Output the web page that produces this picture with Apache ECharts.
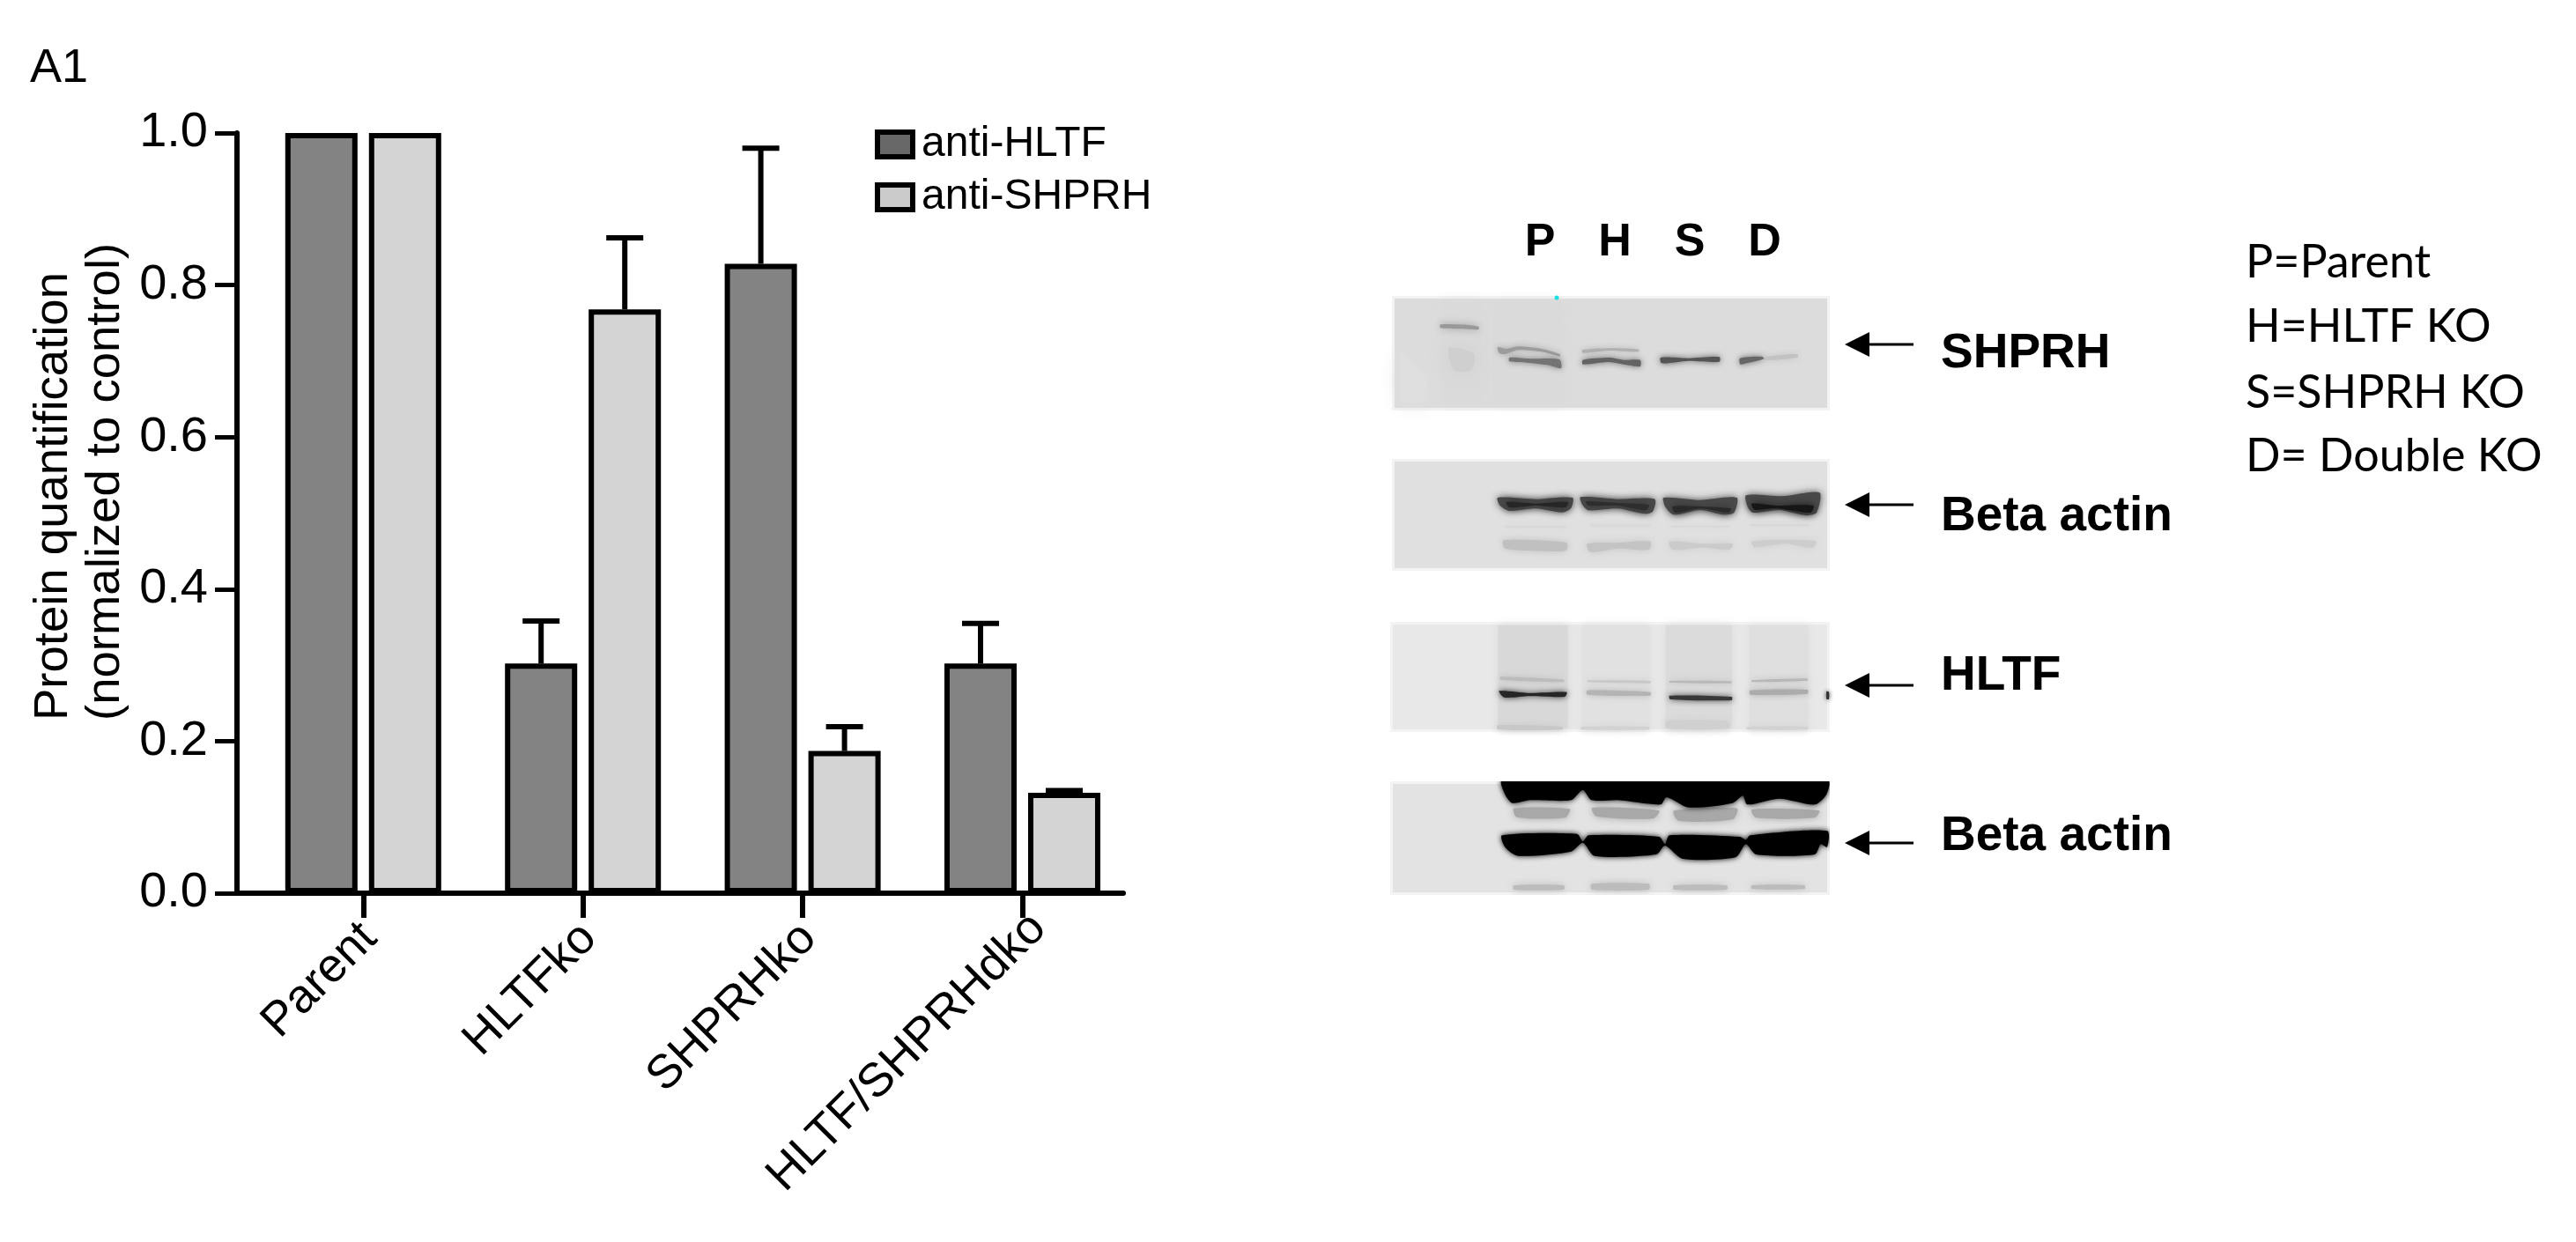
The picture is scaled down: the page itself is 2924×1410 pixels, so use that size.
<!DOCTYPE html>
<html><head><meta charset="utf-8">
<style>html,body{margin:0;padding:0;background:#fff}#c{width:2924px;height:1410px}</style>
<script src="https://cdn.jsdelivr.net/npm/echarts@6/dist/echarts.min.js"></script>
</head><body><div id="c"></div>
<script>
const categories = ['Parent','HLTFko','SHPRHko','HLTF/SHPRHdko'];
const antiHLTF = [1.0,0.302,0.828,0.302];
const antiSHPRH = [1.0,0.768,0.187,0.132];
const antiHLTFUpper = [null,0.358,0.98,0.355];
const antiSHPRHUpper = [null,0.862,0.219,0.135];
const yTicks = ['0.0','0.2','0.4','0.6','0.8','1.0'];
const seriesNames = ['anti-HLTF','anti-SHPRH'];
const yTitle = 'Protein quantification\n(normalized to control)';
const keyLines = ['P=Parent','H=HLTF KO','S=SHPRH KO','D= Double KO'];
const laneLetters = ['P','H','S','D'];
const blotLabels = ['SHPRH','Beta actin','HLTF','Beta actin'];

const F = '"Liberation Sans",Arial,sans-serif';
const G = {top:151,h:863,left:287.6,w:997.6};
const chart = echarts.init(document.getElementById('c'),null,{renderer:'canvas'});

function errSeries(vals,tops,off){
  return {type:'custom',xAxisIndex:0,yAxisIndex:0,z:1,silent:true,
    data:vals.map((v,i)=>[i,v,tops[i]]).filter(d=>d[2]!=null),
    encode:{x:0,y:[1,2]},
    renderItem(p,api){
      const a=api.coord([api.value(0),api.value(1)]),b=api.coord([api.value(0),api.value(2)]);
      const x=a[0]+off,st={stroke:'#000',lineWidth:6};
      return {type:'group',children:[
        {type:'line',shape:{x1:x,y1:a[1],x2:x,y2:b[1]},style:st},
        {type:'line',shape:{x1:x-21,y1:b[1],x2:x+21,y2:b[1]},style:st}]};
    }};
}

// --- blot drawing (decorative photo panels), in crop coordinates of each row pair
const gfx=[];
function panel(x0,y0,x1,y1,fill){
  gfx.push({type:'rect',shape:{x:x0,y:y0,width:x1-x0,height:y1-y0},style:{fill:'#f3f3f3'},z:1});
  gfx.push({type:'rect',shape:{x:x0+3,y:y0+3,width:x1-x0-6,height:y1-y0-6},style:{fill},z:1});
}
function poly(o,pts,color,blur,smooth){
  gfx.push({type:'polygon',z:2,shape:{points:pts.map(p=>[o[0]+p[0]/3,o[1]+p[1]/3]),smooth:smooth==null?0.25:smooth},
    style:{fill:color,shadowColor:color,shadowBlur:blur==null?8:blur}});
}
function mask(x,y,w,h){gfx.push({type:'rect',z:3,shape:{x,y,width:w,height:h},style:{fill:'#fff'}});}
const A=[1570,320],B=[1570,695];
panel(1580,336,2077,466,'#dcdcdc');
panel(1580,521,2077,648,'#e0e0e0');
panel(1578,706,2077,831,'#e8e8e8');
panel(1578,887,2077,1016,'#e3e3e3');
// panel 1
poly(A,[[375,70],[610,70],[615,415],[375,415]],'#dadada',14,0);
poly(A,[[200,70],[340,70],[340,415],[200,415]],'#dadada',14,0);
poly(A,[[60,230],[150,340],[150,410],[60,410]],'#dfdfdf',24,0);
poly(A,[[195,145],[260,145],[325,152],[325,162],[260,160],[195,157]],'#999',8);
poly(A,[[225,225],[310,245],[300,300],[240,300]],'#cfcfcf',24);
poly(A,[[390,222],[420,228],[460,220],[540,228],[602,246],[602,254],[540,238],[460,232],[415,246],[395,242]],'#9c9c9c',7);
poly(A,[[430,258],[500,262],[600,264],[606,294],[560,283],[490,275],[430,271]],'#747474',7);
poly(A,[[678,232],[770,226],[870,230],[870,238],[770,234],[680,242]],'#b0b0b0',6);
poly(A,[[680,266],[770,258],[820,266],[875,266],[875,288],[830,283],[770,273],[680,281]],'#636363',7);
poly(A,[[945,258],[1040,260],[1145,256],[1145,272],[1040,269],[948,277]],'#555',7);
poly(A,[[1215,260],[1290,254],[1298,262],[1230,279],[1216,281]],'#666',7);
poly(A,[[1300,256],[1410,246],[1412,257],[1300,267]],'#c2c2c2',7);
gfx.push({type:'circle',z:2,shape:{cx:1767,cy:338,r:2.5},style:{fill:'#19e0e0'}});
// panel 2
[[[390,735],[520,740],[645,735],[640,770],[610,785],[520,772],[430,780],[398,762]],
 [[672,733],[800,740],[925,740],[918,782],[890,790],[800,772],[700,778],[678,758]],
 [[955,735],[1080,743],[1204,735],[1195,786],[1160,793],[1080,777],[990,793],[962,768]],
 [[1236,727],[1360,730],[1486,718],[1476,786],[1440,795],[1350,777],[1260,786],[1242,768]]
].forEach(p=>poly(A,p,'#4a4a4a',9));
poly(A,[[420,750],[520,755],[630,750],[620,768],[520,762],[430,768]],'#262626',10);
poly(A,[[690,748],[800,753],[905,760],[895,778],[800,762],[700,762]],'#2e2e2e',10);
poly(A,[[985,765],[1080,765],[1185,772],[1175,786],[1080,772],[995,786]],'#2a2a2a',10);
poly(A,[[1255,755],[1340,762],[1465,762],[1455,786],[1340,772],[1265,776]],'#161616',10);
poly(A,[[410,880],[625,888],[625,912],[600,918],[415,908]],'#c0c0c0',9);
poly(A,[[695,892],[800,888],[910,884],[905,912],[800,908],[705,920]],'#c4c4c4',9);
poly(A,[[975,884],[1090,892],[1190,892],[1180,912],[1090,905],[985,912]],'#cbcbcb',9);
poly(A,[[1255,884],[1370,878],[1475,884],[1460,906],[1370,892],[1265,904]],'#cdcdcd',9);
[[415,830,625,838],[705,826,910,834],[980,830,1180,836],[1250,825,1450,832]].forEach(r=>
  poly(A,[[r[0],r[1]],[r[2],r[1]],[r[2],r[3]],[r[0],r[3]]],'#d8d8d8',6,0));
// panel 3
poly(B,[[392,45],[628,45],[628,395],[392,395]],'#d8d8d8',10,0);
poly(B,[[677,45],[908,45],[908,395],[677,395]],'#e1e1e1',10,0);
poly(B,[[962,45],[1188,45],[1188,395],[962,395]],'#dbdbdb',10,0);
poly(B,[[1247,45],[1448,45],[1448,395],[1247,395]],'#dfdfdf',10,0);
poly(B,[[400,220],[615,230],[615,238],[400,230]],'#bcbcbc',7);
poly(B,[[395,268],[500,275],[625,272],[618,288],[500,286],[412,290]],'#262626',7);
poly(B,[[695,232],[910,234],[910,242],[695,238]],'#c8c8c8',7);
poly(B,[[695,266],[910,272],[910,284],[695,281]],'#b4b4b4',7);
poly(B,[[975,234],[1185,235],[1185,242],[975,240]],'#b8b8b8',7);
poly(B,[[975,284],[1187,288],[1187,300],[978,297]],'#383838',7);
poly(B,[[1255,232],[1445,226],[1445,233],[1255,238]],'#b8b8b8',7);
poly(B,[[1250,266],[1445,264],[1445,278],[1250,281]],'#acacac',7);
poly(B,[[1510,270],[1518,272],[1518,296],[1510,296]],'#333',5);
poly(B,[[390,385],[610,390],[610,400],[390,400]],'#c8c8c8',7);
poly(B,[[965,370],[1175,372],[1175,396],[965,396]],'#d0d0d0',8);
poly(B,[[675,390],[905,390],[905,400],[675,400]],'#d2d2d2',7);
poly(B,[[1240,390],[1445,390],[1445,400],[1240,400]],'#d2d2d2',7);
// panel 4
[[[445,668],[635,670],[620,700],[455,698]],[[712,666],[940,676],[920,703],[725,695]],
 [[990,676],[1205,668],[1190,706],[1005,710]],[[1255,672],[1485,676],[1470,700],[1270,700]]
].forEach(p=>poly(B,p,'#a8a8a8',9));
poly(B,[[405,573],[1515,573],[1510,620],[1470,655],[1350,635],[1240,655],[1225,625],[1190,650],[1040,665],[965,630],[945,655],[800,640],[710,640],[680,605],[640,640],[500,640],[440,650],[415,620]],'#000',6);
poly(B,[[405,760],[660,755],[680,780],[700,760],[940,765],[960,790],[975,760],[1215,765],[1235,775],[1250,760],[1512,745],[1512,800],[1490,790],[1470,825],[1270,825],[1235,790],[1200,835],[1020,840],[960,795],[930,825],[720,830],[680,785],[640,815],[460,830],[415,800]],'#000',6);
[[445,930,615,945],[710,925,905,945],[990,930,1170,945],[1255,930,1435,943]].forEach(r=>
  poly(B,[[r[0],r[1]],[r[2],r[1]],[r[2],r[3]],[r[0],r[3]]],'#bcbcbc',9));
mask(1560,870,540,17); mask(1560,1016,540,20); mask(2077,880,20,140);
// labels
const lbl=(t,x,y,size,extra)=>gfx.push({type:'text',z:5,x,y,style:Object.assign({text:t,fontFamily:F,fontSize:size,fill:'#000',verticalAlign:'middle'},extra||{})});
lbl('A1',34,78,54);
gfx.push({type:'text',z:5,x:31,y:818,rotation:Math.PI/2,style:{text:yTitle,fontFamily:F,fontSize:54.5,lineHeight:59,fill:'#000',align:'left',verticalAlign:'top'}});
[1748,1833,1918,2003].forEach((x,i)=>lbl(laneLetters[i],x,276,52,{fontWeight:'bold',align:'center'}));
[402,587,768,950].forEach((y,i)=>lbl(blotLabels[i],2203,y,55,{fontWeight:'bold'}));
[391,573,778,957].forEach(y=>{
  gfx.push({type:'polygon',z:5,shape:{points:[[2094,y],[2122,y-14],[2122,y+14]]},style:{fill:'#000'}});
  gfx.push({type:'line',z:5,shape:{x1:2118,y1:y,x2:2172,y2:y},style:{stroke:'#000',lineWidth:3}});
});
[298,371,446,518].forEach((y,i)=>lbl(keyLines[i],2549,y,52,{fontFamily:'Lato'}));

chart.setOption({
  animation:false,backgroundColor:'#fff',
  grid:[{left:G.left,top:G.top,width:G.w,height:G.h},{left:269,top:G.top,width:1006,height:G.h}],
  xAxis:[
    {type:'category',gridIndex:0,axisLine:{show:false},
     data:categories.map((c,i)=>i===3?{value:c,textStyle:{padding:[20,-26,0,0]}}:c),
     axisTick:{show:true,alignWithLabel:true,length:28,lineStyle:{color:'#000',width:6}},
     axisLabel:{rotate:45,color:'#000',fontFamily:F,fontSize:54,margin:50,interval:0,padding:[0,-10,0,0]}},
    {type:'value',gridIndex:1,min:0,max:1,axisLine:{show:true,lineStyle:{color:'#000',width:6}},
     axisTick:{show:false},axisLabel:{show:false},splitLine:{show:false}}
  ],
  yAxis:[
    {type:'value',gridIndex:0,min:0,max:1,show:false,splitLine:{show:false}},
    {type:'value',gridIndex:1,min:0,max:1,interval:0.2,
     axisLine:{show:true,onZero:false,lineStyle:{color:'#000',width:6}},
     axisTick:{show:true,length:25,lineStyle:{color:'#000',width:5}},
     axisLabel:{color:'#000',fontFamily:F,fontSize:56,margin:33,formatter:(v)=>yTicks[Math.round(v*5)]},
     splitLine:{show:false}}
  ],
  legend:{orient:'vertical',left:993,top:140,padding:0,itemWidth:40,itemHeight:28,itemGap:12,selectedMode:false,
    textStyle:{color:'#000',fontFamily:F,fontSize:48,lineHeight:48,padding:[0,0,0,5]},
    data:[{name:seriesNames[0],icon:'rect',itemStyle:{color:'#686868',borderColor:'#000',borderWidth:6}},
          {name:seriesNames[1],icon:'rect',itemStyle:{color:'#cbcbcb',borderColor:'#000',borderWidth:6}}]},
  series:[
    {name:seriesNames[0],type:'bar',xAxisIndex:0,yAxisIndex:0,barWidth:82,barGap:'15.85%',z:2,data:antiHLTF,
     itemStyle:{color:'#838383',borderColor:'#000',borderWidth:6}},
    {name:seriesNames[1],type:'bar',xAxisIndex:0,yAxisIndex:0,barWidth:82,z:2,data:antiSHPRH,
     itemStyle:{color:'#d4d4d4',borderColor:'#000',borderWidth:6}},
    errSeries(antiHLTF,antiHLTFUpper,-47.5),
    errSeries(antiSHPRH,antiSHPRHUpper,47.5)
  ],
  graphic:gfx
});
</script></body></html>
